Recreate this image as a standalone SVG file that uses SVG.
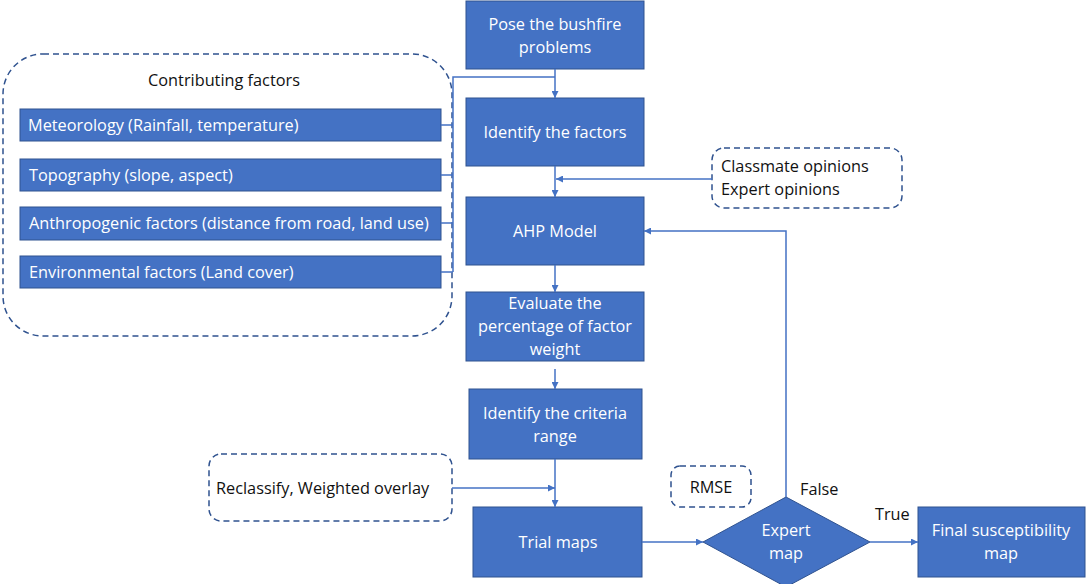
<svg xmlns="http://www.w3.org/2000/svg" width="1086" height="584" viewBox="0 0 1086 584">
<defs>
<style>
.box{fill:#4472C4;stroke:#2F528F;stroke-width:1}
.dash{fill:none;stroke:#2F528F;stroke-width:1.5;stroke-dasharray:6 4}
.wt{fill:#fff;font-family:"Open Sans","Liberation Sans",sans-serif;font-size:16.3px}
.bt{fill:#111;font-family:"Open Sans","Liberation Sans",sans-serif;font-size:16.3px}
.ln{fill:none;stroke:#4472C4;stroke-width:1.5}
</style>
<marker id="ah" viewBox="0 0 10 10" refX="10" refY="5" markerWidth="7" markerHeight="7" markerUnits="userSpaceOnUse" orient="auto"><path d="M0,0L10,5L0,10z" fill="#4472C4"/></marker>
</defs>
<rect width="1086" height="584" fill="#fff"/>
<g id="contributing">
<rect class="dash" x="3" y="54" width="449" height="282" rx="40"/>
<text class="bt" x="224" y="86" text-anchor="middle">Contributing factors</text>
</g>
<g id="meteorology"><rect class="box" x="20" y="109" width="421" height="32"/><text class="wt" x="28" y="131">Meteorology (Rainfall, temperature)</text></g>
<g id="topography"><rect class="box" x="20" y="159" width="421" height="32"/><text class="wt" x="29" y="181">Topography (slope, aspect)</text></g>
<g id="anthropogenic"><rect class="box" x="20" y="207" width="421" height="33"/><text class="wt" x="29" y="229">Anthropogenic factors (distance from road, land use)</text></g>
<g id="environmental"><rect class="box" x="20" y="256" width="421" height="32"/><text class="wt" x="29" y="278">Environmental factors (Land cover)</text></g>
<g id="pose"><rect class="box" x="466" y="1" width="178" height="68"/><text class="wt" text-anchor="middle" x="555" y="30">Pose the bushfire</text><text class="wt" text-anchor="middle" x="555" y="53">problems</text></g>
<g id="identify"><rect class="box" x="466" y="98" width="178" height="68"/><text class="wt" text-anchor="middle" x="555" y="138">Identify the factors</text></g>
<g id="opinions"><rect class="dash" x="712" y="148" width="190" height="60" rx="12"/><text class="bt" x="721" y="172">Classmate opinions</text><text class="bt" x="721" y="195">Expert opinions</text></g>
<g id="ahp"><rect class="box" x="466" y="197" width="178" height="68"/><text class="wt" text-anchor="middle" x="555" y="237">AHP Model</text></g>
<g id="evaluate"><rect class="box" x="466" y="292" width="178" height="69"/><text class="wt" text-anchor="middle" x="555" y="309">Evaluate the</text><text class="wt" text-anchor="middle" x="555" y="332">percentage of factor</text><text class="wt" text-anchor="middle" x="555" y="355">weight</text></g>
<g id="criteria"><rect class="box" x="469" y="389" width="173" height="70"/><text class="wt" text-anchor="middle" x="555" y="419">Identify the criteria</text><text class="wt" text-anchor="middle" x="555" y="442">range</text></g>
<g id="reclassify"><rect class="dash" x="209" y="454" width="243" height="67" rx="12"/><text class="bt" x="216" y="494">Reclassify, Weighted overlay</text></g>
<g id="trial"><rect class="box" x="473" y="507" width="169" height="70"/><text class="wt" text-anchor="middle" x="558" y="548">Trial maps</text></g>
<g id="rmse"><rect class="dash" x="671" y="466" width="80" height="41" rx="9"/><text class="bt" text-anchor="middle" x="711" y="493">RMSE</text></g>
<g id="expert"><path class="box" d="M786,497L870,542L786,587L703,542z"/><text class="wt" text-anchor="middle" x="786" y="536">Expert</text><text class="wt" text-anchor="middle" x="786" y="559">map</text></g>
<g id="final"><rect class="box" x="918" y="507" width="167" height="70"/><text class="wt" text-anchor="middle" x="1001" y="536">Final susceptibility</text><text class="wt" text-anchor="middle" x="1001" y="559">map</text></g>
<g id="connectors">
<path class="ln" d="M555,69V98" marker-end="url(#ah)"/>
<path class="ln" d="M441,125H453M441,175H453M441,223H453M441,272H453M453,272V77H555"/>
<path class="ln" d="M555,166V197" marker-end="url(#ah)"/>
<path class="ln" d="M712,179H556" marker-end="url(#ah)"/>
<path class="ln" d="M555,265V292" marker-end="url(#ah)"/>
<path class="ln" d="M555,369V389" marker-end="url(#ah)"/>
<path class="ln" d="M555,459V507" marker-end="url(#ah)"/>
<path class="ln" d="M452,488H555" marker-end="url(#ah)"/>
<path class="ln" d="M642,542H703" marker-end="url(#ah)"/>
<path class="ln" d="M786,497V231H644" marker-end="url(#ah)"/>
<path class="ln" d="M870,542H918" marker-end="url(#ah)"/>
<text class="bt" x="800" y="495">False</text>
<text class="bt" x="875" y="520">True</text>
</g>
</svg>
